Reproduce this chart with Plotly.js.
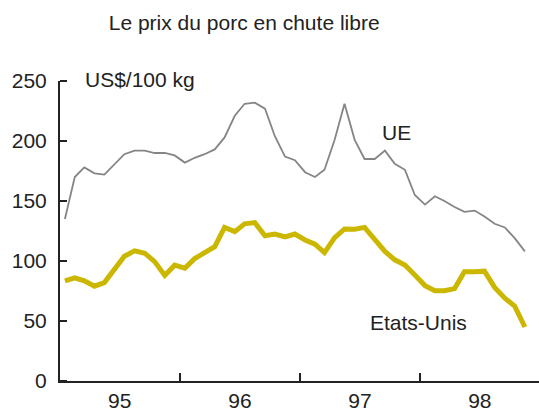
<!DOCTYPE html>
<html>
<head>
<meta charset="utf-8">
<script src="https://cdn.plot.ly/plotly-3.0.1.min.js"></script>
<style>html,body{margin:0;padding:0;background:#fff;}#chart{width:539px;height:412px;}</style>
</head>
<body>
<div id="chart"></div>
<script>
// Monthly observations, Jan 1995 - Nov 1998
const months = [
  '1995-01-16','1995-02-15','1995-03-16','1995-04-16','1995-05-16','1995-06-16','1995-07-16','1995-08-16','1995-09-16','1995-10-16','1995-11-16','1995-12-16',
  '1996-01-16','1996-02-15','1996-03-16','1996-04-16','1996-05-16','1996-06-16','1996-07-16','1996-08-16','1996-09-16','1996-10-16','1996-11-16','1996-12-16',
  '1997-01-16','1997-02-15','1997-03-16','1997-04-16','1997-05-16','1997-06-16','1997-07-16','1997-08-16','1997-09-16','1997-10-16','1997-11-16','1997-12-16',
  '1998-01-16','1998-02-15','1998-03-16','1998-04-16','1998-05-16','1998-06-16','1998-07-16','1998-08-16','1998-09-16','1998-10-16','1998-11-16'
];
const ue = [
  135,170,178,173,172,181,189,192,192,190,190,188,
  182,186,189,193,203,221,231,232,227,204,187,184,
  174,170,176,201,231,201,185,185,192,181,176,155,
  147,154,150,145,141,142,137,131,128,119,108
];
const etatsUnis = [
  83.5,86,83.5,79,82,94,104,108.5,106.5,99.5,88,96.5,
  94,102,107.5,112,128,124.5,131,132,121,122.5,120,122.5,
  117.5,114,107,119.5,126.7,126.5,128,118,108,101,96.6,88.3,
  79.5,75.2,75.2,77,91,91,91.5,78,69,62.4,45
];
const yearTickPos = ['1995-07-02','1996-07-02','1997-07-02','1998-07-02'];
const yearTickText = ['95','96','97','98'];
const yearBounds = ['1996-01-01','1997-01-01','1998-01-01'];
const yTicks = [0,50,100,150,200,250];

const FONT = 'Liberation Sans, Arial, sans-serif';
const INK = '#222222';

const traces = [
  {x: months, y: ue, type: 'scatter', mode: 'lines', name: 'UE',
   line: {color: '#858585', width: 1.8}, hoverinfo: 'skip'},
  {x: months, y: etatsUnis, type: 'scatter', mode: 'lines', name: 'Etats-Unis',
   line: {color: '#cbb700', width: 5}, hoverinfo: 'skip'}
];

const layout = {
  width: 539, height: 412,
  margin: {l: 60, r: 0, t: 81, b: 31, pad: 0},
  paper_bgcolor: '#ffffff', plot_bgcolor: '#ffffff',
  showlegend: false,
  font: {family: FONT, size: 21, color: INK},
  title: {text: 'Le prix du porc en chute libre', x: 0.453, xanchor: 'center',
          xref: 'container', y: 0.944, yanchor: 'middle', yref: 'container',
          font: {family: FONT, size: 21, color: INK}},
  xaxis: {
    type: 'date', range: ['1995-01-01', '1998-12-29'],
    showgrid: false, zeroline: false,
    showline: true, linecolor: INK, linewidth: 2,
    tickmode: 'array', tickvals: yearTickPos, ticktext: yearTickText,
    ticks: '', tickfont: {family: FONT, size: 21, color: INK},
    minor: {tickmode: 'array', tickvals: yearBounds, ticks: 'inside', ticklen: 8, tickwidth: 2, tickcolor: INK, showgrid: false}
  },
  yaxis: {
    range: [0, 250], showgrid: false, zeroline: false,
    showline: true, linecolor: INK, linewidth: 2,
    tickmode: 'array', tickvals: yTicks,
    ticks: '', ticklabelstandoff: 7,
    tickfont: {family: FONT, size: 21, color: INK},
    minor: {tickmode: 'array', tickvals: yTicks, ticks: 'inside', ticklen: 7, tickwidth: 2, tickcolor: INK, showgrid: false}
  },
  annotations: [
    {text: 'US$/100 kg', xref: 'paper', yref: 'paper', x: 0.048, y: 1.004, xanchor: 'left', yanchor: 'middle',
     showarrow: false, font: {family: FONT, size: 21, color: INK}},
    {text: 'UE', xref: 'x', yref: 'y', x: '1997-10-20', y: 207, xanchor: 'center', yanchor: 'middle',
     showarrow: false, font: {family: FONT, size: 21, color: INK}},
    {text: 'Etats-Unis', xref: 'x', yref: 'y', x: '1997-12-28', y: 49, xanchor: 'center', yanchor: 'middle',
     showarrow: false, font: {family: FONT, size: 21, color: INK}}
  ]
};

Plotly.newPlot('chart', traces, layout, {displayModeBar: false, staticPlot: true});
</script>
</body>
</html>
